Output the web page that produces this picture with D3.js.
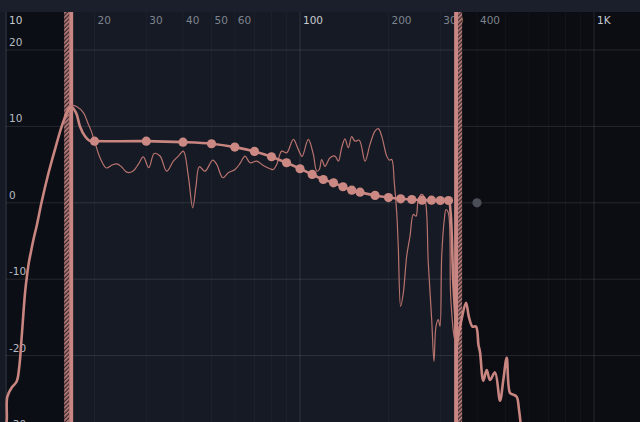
<!DOCTYPE html>
<html><head><meta charset="utf-8">
<script src="https://cdn.jsdelivr.net/npm/d3@7"></script>
<style>html,body{margin:0;padding:0;background:#151923;overflow:hidden}</style>
</head><body><svg id="c" width="640" height="422"></svg>
<script>
// ---- data ----
const xTickValues = [10, 20, 30, 40, 50, 60, 100, 200, 300, 400, 1000];
const xTickLabels = ["10", "20", "30", "40", "50", "60", "100", "200", "300", "400", "1K"];
const xMajor = [10, 100, 1000];
const xMinor = [20, 30, 40, 50, 60, 70, 80, 90, 200, 300, 400, 500, 600, 700, 800, 900];
const yTickValues = [20, 10, 0, -10, -20, -30];
const yTickLabels = ["20", "10", "0", "-10", "-20", "-30"];

const rangeLow = 16.4;   // Hz
const rangeHigh = 345;   // Hz

const bandFreqs = [20, 30, 40, 50, 60, 70, 80, 90, 100, 110, 120, 130, 140, 150, 160, 180, 200, 220, 240, 260, 280, 300, 320];
const bandGains = [8.07, 8.07, 7.94, 7.73, 7.29, 6.72, 6.03, 5.24, 4.46, 3.71, 3.05, 2.62, 2.10, 1.65, 1.39, 0.96, 0.69, 0.52, 0.43, 0.34, 0.34, 0.30, 0.30];
const disabledFreqs = [400];
const disabledGains = [0];

const targetFreqs = [9.96, 10.06, 10.10, 10.45, 10.87, 11.10, 11.31, 11.61, 11.79, 11.975, 12.16, 12.40, 12.72, 13.23, 13.93, 14.68, 15.47, 16.09, 16.60, 17.30, 17.85, 18.57, 19.20,
  20, 30, 40, 50, 60, 70, 80, 90, 100, 110, 120, 130, 140, 150, 160, 180, 200, 220, 240, 260, 280, 300, 320,
  325.0, 332.2, 338.0, 341.5, 346.1, 354.2, 367.0, 375.7, 386.1, 396.8, 404.6, 409.4, 420.2, 431.5, 442.8, 460.5, 479.0, 491.5, 504.8, 518.0, 531.6, 546.0, 555.9, 562.3, 570];
const targetGains = [-29.7, -28.4, -25.4, -24.2, -23.4, -21.4, -17.5, -11.75, -9.5, -7.7, -6.4, -4.8, -3.0, 0.16, 3.8, 7.0, 10.0, 11.7, 12.6, 11.8, 10.0, 8.7, 8.14,
  8.07, 8.07, 7.94, 7.73, 7.29, 6.72, 6.03, 5.24, 4.46, 3.71, 3.05, 2.62, 2.10, 1.65, 1.39, 0.96, 0.69, 0.52, 0.43, 0.34, 0.34, 0.30, 0.30,
  -1.1, -10.4, -15.3, -18.6, -17.2, -15.3, -13.1, -15.0, -16.2, -16.2, -18.6, -19.5, -23.3, -21.9, -23.2, -22.2, -25.9, -23.2, -20.3, -24.9, -25.1, -25.4, -27.1, -28.7, -31];

const measFreqs = [15.75, 16.25, 16.77, 17.44, 18.33, 19.01, 19.46, 20.08, 20.88, 21.94, 22.94, 23.85, 24.75, 25.74, 26.93, 28.18, 29.31, 30.60, 31.92, 33.41, 35.21, 37.08, 38.56, 40.10, 41.70, 43.16, 44.29, 45.45, 47.53, 50.48, 52.09, 54.59, 57.04, 60.11, 62.51, 65.01, 67.61, 71.25, 75.03, 79.07, 81.14, 83.33, 86.67, 90.13, 94.91, 98.68,
  101.6, 106.7, 111.0, 114.0, 116.3, 118.5, 121.6, 126.5, 131.5, 135.0, 138.6, 142.2, 146.0, 149.9, 153.8, 159.1, 166.4, 173.0, 179.9, 184.6, 189.6, 197.2, 201.3, 205.1, 209.3, 213.3, 215.9, 220.0, 224.6, 230.6, 236.7, 242.9, 248.1, 252.6, 259.4, 266.2, 273.1, 280.5, 285.6, 290.1, 295.4, 299.3, 303.4, 309.6, 313.8, 319.5, 325.5, 334.1, 339.4];
const measGains = [11.18, 12.36, 12.79, 12.56, 11.80, 10.39, 9.48, 7.86, 5.90, 4.56, 4.95, 5.09, 4.69, 4.01, 4.10, 5.02, 6.00, 4.59, 6.46, 6.13, 4.14, 5.45, 6.11, 6.76, 3.49, -0.66, 2.18, 4.72, 4.14, 5.58, 5.02, 3.28, 3.93, 4.36, 5.15, 6.11, 5.24, 5.45, 4.89, 4.46, 4.36, 5.02, 6.76, 6.55, 8.30, 6.99,
  6.07, 8.30, 6.33, 4.14, 4.36, 5.67, 4.76, 5.90, 6.11, 5.45, 7.21, 8.36, 7.21, 8.65, 8.07, 8.20, 5.45, 7.64, 9.38, 9.70, 8.73, 6.11, 5.58, 5.67, 2.62, -1.31, -5.69, -13.55, -11.80, -7.00, -4.38, -1.53, -1.76, 0.43, 1.09, 0.43, -7.86, -15.29, -20.76, -16.17, -15.29, -16.17, -7.00, -2.19, -0.88, -1.31, -12.24, -17.48, -18.57];

// ---- layout ----
const W = 640, H = 422, topY = 12;
const svg = d3.select("#c");
const x = d3.scaleLog().domain([10, 1000]).range([6, 594]);
const y = d3.scaleLinear().domain([-30, 20]).range([432, 50]);
const pink = "#c98580";

const defs = svg.append("defs");
defs.append("clipPath").attr("id", "plot").append("rect")
  .attr("x", 0).attr("y", topY).attr("width", W).attr("height", H - topY);
const pat = defs.append("pattern").attr("id", "hatch").attr("patternUnits", "userSpaceOnUse")
  .attr("width", 3).attr("height", 3).attr("patternTransform", "rotate(45)");
pat.append("rect").attr("width", 3).attr("height", 3).attr("fill", "#3a2a30");
pat.append("rect").attr("width", 1.6).attr("height", 3).attr("fill", "#c4827d");

// backgrounds
svg.append("rect").attr("width", W).attr("height", H).attr("fill", "#161a24");
svg.append("rect").attr("width", W).attr("height", topY).attr("fill", "#1b1f2b");
const xl = x(rangeLow), xh = x(rangeHigh);
svg.append("rect").attr("x", x(10) + 1).attr("y", topY).attr("width", xl - 5 - x(10) - 1).attr("height", H - topY).attr("fill", "#0b0e14");
svg.append("rect").attr("x", xh + 4).attr("y", topY).attr("width", W - xh - 4).attr("height", H - topY).attr("fill", "#0b0d12");

const g = svg.append("g").attr("clip-path", "url(#plot)");

// grid
g.selectAll(".vmin").data(xMinor).join("line")
  .attr("x1", d => x(d)).attr("x2", d => x(d)).attr("y1", topY).attr("y2", H)
  .attr("stroke", "rgba(255,255,255,0.03)");
g.selectAll(".vmaj").data(xMajor).join("line")
  .attr("x1", d => x(d)).attr("x2", d => x(d)).attr("y1", topY).attr("y2", H)
  .attr("stroke", "rgba(255,255,255,0.11)");
g.selectAll(".hg").data(yTickValues).join("line")
  .attr("x1", x(10)).attr("x2", W).attr("y1", d => y(d)).attr("y2", d => y(d))
  .attr("stroke", "rgba(255,255,255,0.11)");

// labels
g.selectAll(".xt").data(xTickValues).join("text")
  .attr("x", d => x(d) + 3).attr("y", 24)
  .attr("font-family", "DejaVu Sans, sans-serif").attr("font-size", 10.5)
  .attr("fill", d => xMajor.includes(d) ? "#c6cad1" : "#7e848f")
  .text((d, i) => xTickLabels[i]);
g.selectAll(".yt").data(yTickValues).join("text")
  .attr("x", 9).attr("y", d => y(d) - 4)
  .attr("font-family", "DejaVu Sans, sans-serif").attr("font-size", 10.5)
  .attr("fill", "#b6bbc3")
  .text((d, i) => yTickLabels[i]);

// range markers
g.append("rect").attr("x", xl - 5).attr("y", topY).attr("width", 5).attr("height", H - topY).attr("fill", "url(#hatch)");
g.append("rect").attr("x", xl).attr("y", topY).attr("width", 4).attr("height", H - topY).attr("fill", "#c98682");
g.append("rect").attr("x", xh - 4).attr("y", topY).attr("width", 4).attr("height", H - topY).attr("fill", "#c98682");
g.append("rect").attr("x", xh).attr("y", topY).attr("width", 4).attr("height", H - topY).attr("fill", "url(#hatch)");

// curves
const meas = measFreqs.map((f, i) => [f, measGains[i]]);
const target = targetFreqs.map((f, i) => [f, targetGains[i]]);
g.append("path").datum(meas)
  .attr("d", d3.line().x(d => x(d[0])).y(d => y(d[1])).curve(d3.curveCatmullRom.alpha(0.5)))
  .attr("fill", "none").attr("stroke", "#b8736f").attr("stroke-width", 1.2);
g.append("path").datum(target)
  .attr("d", d3.line().x(d => x(d[0])).y(d => y(d[1])).curve(d3.curveCatmullRom.alpha(0.5)))
  .attr("fill", "none").attr("stroke", pink).attr("stroke-width", 2.6).attr("stroke-linejoin", "round");

// band dots
g.selectAll(".dot").data(bandFreqs).join("circle")
  .attr("cx", d => x(d)).attr("cy", (d, i) => y(bandGains[i])).attr("r", 4.6)
  .attr("fill", "#cc8984");
g.selectAll(".ddot").data(disabledFreqs).join("circle")
  .attr("cx", d => x(d)).attr("cy", (d, i) => y(disabledGains[i])).attr("r", 4.6)
  .attr("fill", "#4a4e57");
</script></body></html>
